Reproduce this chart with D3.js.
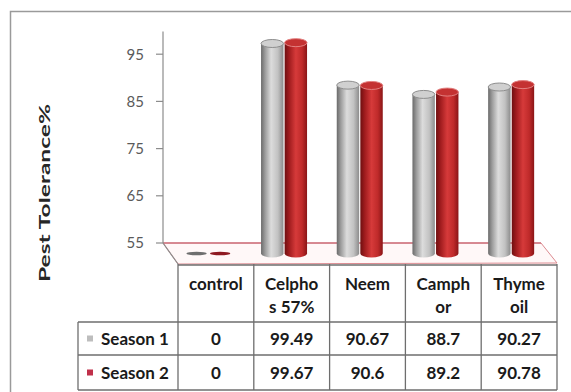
<!DOCTYPE html>
<html>
<head>
<meta charset="utf-8">
<script src="https://cdn.jsdelivr.net/npm/d3@7"></script>
<style>
  body { margin: 0; background: #fff; }
  svg { display: block; }
</style>
</head>
<body>
<svg id="chart" width="571" height="392"></svg>
<script>
// ---- data ----
const categories = ["control", "Celphos 57%", "Neem", "Camphor", "Thyme oil"];
const headerLines = [["control"], ["Celpho", "s 57%"], ["Neem"], ["Camph", "or"], ["Thyme", "oil"]];
const seriesNames = ["Season 1", "Season 2"];
const season1 = [0, 99.49, 90.67, 88.7, 90.27];
const season2 = [0, 99.67, 90.6, 89.2, 90.78];
const yTicks = [55, 65, 75, 85, 95];
const yDomain = [55, 100];
const axisTitle = "Pest Tolerance%";

const seriesValues = [season1, season2];

// ---- layout ----
const svg = d3.select("#chart");
const font = "Lato, 'Open Sans', 'DejaVu Sans', sans-serif";

const wallX = 163, floorBackY = 243;
const depth = { dx: 15, dy: 21 };            // floor depth (back edge -> front edge)
const mid = { dx: depth.dx / 2, dy: depth.dy / 2 };
const backRight = 541, frontRight = 557;

const y = d3.scaleLinear().domain(yDomain).range([floorBackY, floorBackY - 45 * 4.72]);

// bars stand in the middle of the floor depth
const xBar = d3.scaleBand().domain(categories).range([wallX + mid.dx, (backRight + frontRight) / 2]);
const pairWidth = 46;
const xSeries = d3.scaleBand().domain(seriesNames).paddingInner(0.05)
  .range([(xBar.bandwidth() - pairWidth) / 2, (xBar.bandwidth() + pairWidth) / 2]);

// data table under the floor
const xTable = d3.scaleBand().domain(categories).range([wallX + depth.dx, frontRight]);
const tableLeft = 78;
const rowY = [floorBackY + depth.dy, 322, 355, 390];

// ---- chart border ----
svg.append("rect")
  .attr("x", 10.5).attr("y", 11.5).attr("width", 600).attr("height", 420)
  .attr("fill", "none").attr("stroke", "#9a9a9a").attr("stroke-width", 1.5);

// ---- gradients ----
const defs = svg.append("defs");
const gradStops = {
  "Season 1": [[0, "#6a6a6a"], [0.18, "#9c9c9c"], [0.45, "#dcdcdc"], [0.75, "#c2c2c2"], [1, "#8c8c8c"]],
  "Season 2": [[0, "#6e0f10"], [0.2, "#a01c1e"], [0.5, "#d63a3a"], [0.78, "#bf2a2a"], [1, "#8a1517"]]
};
Object.entries(gradStops).forEach(([name, stops], i) => {
  const g = defs.append("linearGradient").attr("id", "cyl" + i)
    .attr("x1", "0%").attr("x2", "100%").attr("y1", "0%").attr("y2", "0%");
  stops.forEach(([o, c]) => g.append("stop").attr("offset", o).attr("stop-color", c));
});
const topFill = ["#d0d0d0", "#c43232"];
const topStroke = ["#8e8e8e", "#e28080"];
const keyFill = ["#bdbdbd", "#c0304a"];

// ---- floor ----
svg.append("path")
  .attr("d", `M${wallX},${floorBackY} L${backRight},${floorBackY} L${frontRight},${floorBackY + depth.dy - 1} L${wallX + depth.dx},${floorBackY + depth.dy} Z`)
  .attr("fill", "#fff8f8").attr("stroke", "#dc8a90").attr("stroke-width", 1);
svg.append("line")
  .attr("x1", wallX).attr("x2", backRight).attr("y1", floorBackY).attr("y2", floorBackY)
  .attr("stroke", "#c0505e").attr("stroke-width", 1.2);

// ---- value axis ----
svg.append("line")
  .attr("x1", wallX).attr("x2", wallX).attr("y1", y(yDomain[1]) + 1).attr("y2", floorBackY)
  .attr("stroke", "#8c8c8c").attr("stroke-width", 1.2);
svg.append("line")
  .attr("x1", wallX).attr("x2", wallX + depth.dx).attr("y1", floorBackY).attr("y2", floorBackY + depth.dy)
  .attr("stroke", "#8c8c8c").attr("stroke-width", 1.2);
const tickG = svg.append("g");
yTicks.forEach(t => {
  tickG.append("line").attr("x1", wallX - 7).attr("x2", wallX).attr("y1", y(t)).attr("y2", y(t))
    .attr("stroke", "#8c8c8c").attr("stroke-width", 1.2);
  tickG.append("text").attr("x", wallX - 19).attr("y", y(t)).attr("dy", "0.36em")
    .attr("text-anchor", "end").attr("font-family", font).attr("font-size", 15)
    .attr("fill", "#5a5a5a").text(t);
});

svg.append("text")
  .attr("transform", `translate(50,193) rotate(-90)`)
  .attr("text-anchor", "middle")
  .attr("font-family", font).attr("font-size", 16).attr("font-weight", "bold")
  .attr("fill", "#262626")
  .attr("textLength", 178).attr("lengthAdjust", "spacingAndGlyphs")
  .text(axisTitle);

// ---- cylinders ----
const ry = 4;
const barsG = svg.append("g");
categories.forEach((cat, ci) => {
  seriesNames.forEach((s, si) => {
    const v = seriesValues[si][ci];
    const w = xSeries.bandwidth();
    const x = xBar(cat) + xSeries(s);
    const rx = w / 2;
    const base = y(yDomain[0]) + mid.dy;
    const top = y(Math.max(v, yDomain[0])) + mid.dy;
    if (top < base) {
      barsG.append("path")
        .attr("d", `M${x},${top} L${x},${base} A${rx},${ry} 0 0 0 ${x + w},${base} L${x + w},${top} Z`)
        .attr("fill", `url(#cyl${si})`);
      barsG.append("ellipse")
        .attr("cx", x + rx).attr("cy", top).attr("rx", rx).attr("ry", ry)
        .attr("fill", topFill[si]).attr("stroke", topStroke[si]).attr("stroke-width", 1);
    } else {
      // value below the axis minimum: only a flat disc on the floor
      barsG.append("ellipse")
        .attr("cx", x + rx).attr("cy", base).attr("rx", rx - 1).attr("ry", 1.8)
        .attr("fill", si === 0 ? "#6e6e6e" : "#8e1a22");
    }
  });
});

// ---- data table ----
const tbl = svg.append("g").attr("stroke", "#6e6e6e").attr("stroke-width", 1.3);
[...categories.map(c => xTable(c)), frontRight].forEach(xv => {
  tbl.append("line").attr("x1", xv).attr("x2", xv).attr("y1", rowY[0]).attr("y2", rowY[3]);
});
tbl.append("line").attr("x1", tableLeft).attr("x2", tableLeft).attr("y1", rowY[1]).attr("y2", rowY[3]);
tbl.append("line").attr("x1", wallX + depth.dx).attr("x2", frontRight).attr("y1", rowY[0] + 1).attr("y2", rowY[0] + 1);
[rowY[1], rowY[2], rowY[3]].forEach(yy => {
  tbl.append("line").attr("x1", tableLeft).attr("x2", frontRight).attr("y1", yy).attr("y2", yy);
});

const txt = svg.append("g").attr("font-family", font).attr("font-weight", "bold")
  .attr("font-size", 17).attr("fill", "#1a1a1a").attr("text-anchor", "middle");
categories.forEach((cat, ci) => {
  const cx = xTable(cat) + xTable.bandwidth() / 2;
  headerLines[ci].forEach((ln, li) => {
    txt.append("text").attr("x", cx).attr("y", 290 + li * 23).text(ln);
  });
  seriesNames.forEach((s, si) => {
    txt.append("text").attr("x", cx).attr("y", (rowY[si + 1] + rowY[si + 2]) / 2 + 6)
      .text(seriesValues[si][ci]);
  });
});
seriesNames.forEach((s, si) => {
  const cy = (rowY[si + 1] + rowY[si + 2]) / 2;
  svg.append("rect").attr("x", 87).attr("y", cy - 3).attr("width", 6).attr("height", 6)
    .attr("fill", keyFill[si]);
  txt.append("text").attr("x", 101).attr("y", cy + 6).attr("text-anchor", "start").text(s);
});
</script>
</body>
</html>
